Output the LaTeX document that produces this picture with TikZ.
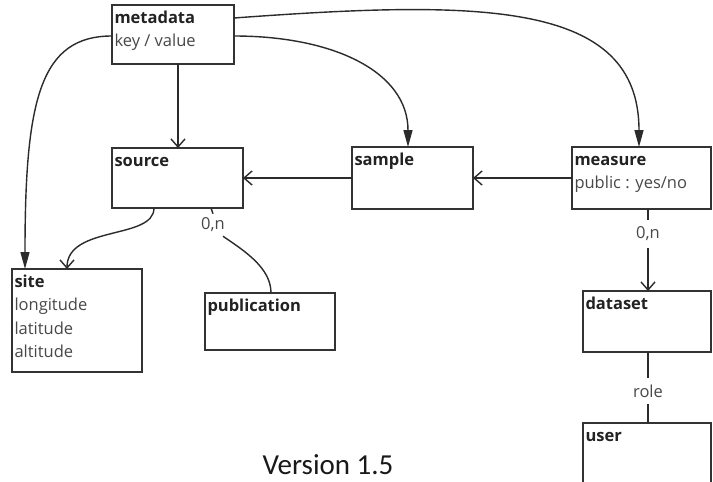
\documentclass[tikz,border=0pt]{standalone}
\usepackage{fontspec}
\setmainfont{Open Sans}
\newfontfamily\versionfont{Carlito}
\usetikzlibrary{arrows.meta}

\definecolor{edgegray}{HTML}{333333}
\definecolor{inkdark}{HTML}{222222}
\definecolor{inksoft}{HTML}{484848}
\definecolor{wire}{HTML}{2B2B2B}

% entity body: fixed width and height, text hung from the top left
\newcommand{\entitybody}[3]{%
  \vbox to #2{\hsize=#1\relax\parskip=0pt\leftskip=2.5pt\rightskip=0pt plus 1fil
    \noindent\rule{0pt}{18pt}#3\par\vfil}}
\newcommand{\ename}[1]{\textcolor{inkdark}{\textbf{#1}}}

\tikzset{
  entity/.style={draw=edgegray, line width=2.6pt, inner sep=0pt, outer sep=0pt,
    anchor=north west, text=inksoft, font=\fontsize{16.5}{23.5}\selectfont},
  conn/.style={draw=wire, line width=1.4pt},
  openhead/.style={conn, -{Straight Barb[length=8pt,width=14pt]}},
  filledhead/.style={conn, -{Triangle[length=17pt,width=9pt]}},
  cardlabel/.style={fill=white, text=inksoft, inner xsep=2pt, inner ysep=7pt,
    font=\fontsize{16.5}{19}\selectfont},
}

\begin{document}
\begin{tikzpicture}[x=1pt, y=-1pt]
  \useasboundingbox (0,0) rectangle (713,482);
  \fill[white] (0,0) rectangle (713,482);
  \clip (0,0) rectangle (713,482);

  % entities
  \node[entity] (meta) at (112,5)   {\entitybody{122pt}{59pt}{\ename{metadata}\\key / value}};
  \node[entity] (src)  at (112,148) {\entitybody{131pt}{60pt}{\ename{source}}};
  \node[entity] (smp)  at (352,147) {\entitybody{121pt}{62pt}{\ename{sample}}};
  \node[entity] (msr)  at (572,147) {\entitybody{139pt}{62pt}{\ename{measure}\\public : yes/no}};
  \node[entity] (site) at (12,269)  {\entitybody{130pt}{103pt}{\ename{site}\\longitude\\latitude\\altitude}};
  \node[entity] (pub)  at (205,293) {\entitybody{130pt}{57pt}{\ename{publication}}};
  \node[entity] (dset) at (583,291) {\entitybody{128pt}{61pt}{\ename{dataset}}};
  \node[entity] (usr)  at (583,423) {\entitybody{128pt}{80pt}{\ename{user}}};

  % metadata links
  \draw[openhead] ([xshift=66pt]meta.south west) -- ([xshift=66pt]src.north west);
  \draw[filledhead] ([yshift=-31pt]meta.north west)
    .. controls +(-72,0) and +(0,-169) .. ([xshift=13pt]site.north west);
  \draw[filledhead] ([yshift=-31pt]meta.north east)
    .. controls +(100,0) and +(0,-75) .. ([xshift=56pt]smp.north west);
  \draw[filledhead] ([yshift=-13pt]meta.north east)
    .. controls +(246,-18) and +(0,-147) .. ([xshift=67pt]msr.north west);

  % chain measure -> sample -> source
  \draw[openhead] (smp.west) -- (src.east);
  \draw[openhead] (msr.west) -- (smp.east);

  % source -> site
  \draw[openhead] ([xshift=42pt]src.south west)
    .. controls +(0,32) and +(0,-44) .. ([xshift=55pt]site.north west);

  % source -- publication
  \node[text=inksoft, inner sep=4pt, font=\fontsize{16.5}{19}\selectfont] (srccard) at (213,225) {0,n};
  \draw[conn] ([xshift=99pt]src.south west) -- (srccard.north);
  \draw[conn] ([xshift=-6pt]srccard.south east)
    .. controls +(22,15) and +(0,-25) .. ([xshift=66pt]pub.north west);

  % measure -> dataset -- user
  \draw[openhead] ([xshift=76pt]msr.south west) --
    node[cardlabel, pos=0.3] (msrcard) {0,n} ([xshift=65pt]dset.north west);
  \draw[conn] ([xshift=65pt]dset.south west) --
    node[cardlabel, pos=0.55] (role) {role} ([xshift=65pt]usr.north west);

  % version caption
  \node[anchor=base, inner sep=0pt, text=black!90, font=\versionfont\fontsize{29}{33}\selectfont]
    (version) at (328,474) {Version 1.5};
\end{tikzpicture}
\end{document}
